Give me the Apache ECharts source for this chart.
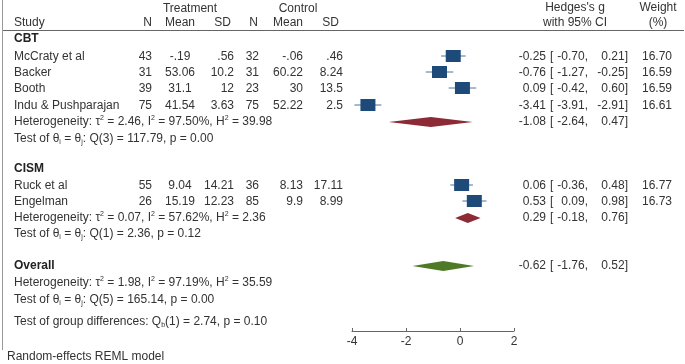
<!DOCTYPE html>
<html><head><meta charset="utf-8">
<script src="https://cdn.jsdelivr.net/npm/echarts@6/dist/echarts.min.js"></script>
<style>html,body{margin:0;padding:0;background:#fff}#c{width:685px;height:364px}</style>
</head><body><div id="c"></div>
<script>
// ---- data ----
const studies = ['McCraty et al', 'Backer', 'Booth', 'Indu & Pushparajan', 'Ruck et al', 'Engelman'];
const studyGroup = ['CBT', 'CBT', 'CBT', 'CBT', 'CISM', 'CISM'];
const treatN = ['43', '31', '39', '75', '55', '26'];
const treatMean = ['-.19', '53.06', '31.1', '41.54', '9.04', '15.19'];
const treatSD = ['.56', '10.2', '12', '3.63', '14.21', '12.23'];
const ctrlN = ['32', '31', '23', '75', '36', '85'];
const ctrlMean = ['-.06', '60.22', '30', '52.22', '8.13', '9.9'];
const ctrlSD = ['.46', '8.24', '13.5', '2.5', '17.11', '8.99'];
const hedgesG = [-0.25, -0.76, 0.09, -3.41, 0.06, 0.53];
const ciLow = [-0.70, -1.27, -0.42, -3.91, -0.36, 0.09];
const ciHigh = [0.21, -0.25, 0.60, -2.91, 0.48, 0.98];
const weights = ['16.70', '16.59', '16.59', '16.61', '16.77', '16.73'];
const groups = ['CBT', 'CISM', 'Overall'];
const pooledG = [-1.08, 0.29, -0.62];
const pooledLow = [-2.64, -0.18, -1.76];
const pooledHigh = [0.47, 0.76, 0.52];
const tau2 = ['2.46', '0.07', '1.98'];
const i2 = ['97.50%', '57.62%', '97.19%'];
const h2 = ['39.98', '2.36', '35.59'];
const qDf = ['3', '1', '5'];
const qVal = ['117.79', '2.36', '165.14'];
const qP = ['0.00', '0.12', '0.00'];
const groupDiff = { df: '1', q: '2.74', p: '0.10' };
const xTicks = [-4, -2, 0, 2];

// ---- layout ----
const studyRowY = [57, 73, 89, 106, 186, 202];
const groupHeadY = [39, 169, 266];
const pooledRowY = [122, 218, 266];
const hetY = [122, 218, 283];
const testY = [139, 234, 300];
const groupDiffY = 322;
const FONT = '"Liberation Sans", Arial, sans-serif';
const TXT = '#333';
const FS = 12;
const diamondColors = ['#8c2a35', '#8c2a35', '#4e7a27'];

const g = [];
function txt(x, y, s, align, extra) {
  g.push({ type: 'text', x: x, y: y, silent: true,
    style: Object.assign({ text: s, fill: TXT, font: FS + 'px ' + FONT, textAlign: align || 'left', textVerticalAlign: 'middle' }, extra || {}) });
}
function fmt(v) { return (v < 0 ? '-' : '') + Math.abs(v).toFixed(2); }
function ciText(y, est, lo, hi) {
  txt(546, y, fmt(est), 'right');
  txt(550, y, '[', 'left');
  txt(588, y, fmt(lo) + ',', 'right');
  txt(628, y, fmt(hi) + ']', 'right');
}
// header
txt(190, 9, 'Treatment', 'center');
txt(298, 9, 'Control', 'center');
txt(14, 23, 'Study');
txt(152, 23, 'N', 'right');
txt(195, 23, 'Mean', 'right');
txt(231, 23, 'SD', 'right');
txt(258, 23, 'N', 'right');
txt(303, 23, 'Mean', 'right');
txt(339, 23, 'SD', 'right');
txt(575, 8, "Hedges's g", 'center');
txt(575, 23, 'with 95% CI', 'center');
txt(658, 8, 'Weight', 'center');
txt(658, 23, '(%)', 'center');
g.push({ type: 'line', silent: true, shape: { x1: 2, y1: 30.5, x2: 684, y2: 30.5 }, style: { stroke: '#666', lineWidth: 1 } });
g.push({ type: 'line', silent: true, shape: { x1: 2.5, y1: 0, x2: 2.5, y2: 350 }, style: { stroke: '#999', lineWidth: 1 } });

// group heads
groups.forEach((gr, k) => {
  g.push({ type: 'text', x: 14, y: groupHeadY[k], silent: true,
    style: { text: gr, fill: '#222', font: 'bold ' + FS + 'px ' + FONT, textVerticalAlign: 'middle' } });
});
// studies
studies.forEach((s, i) => {
  const y = studyRowY[i];
  txt(14, y, s);
  txt(152, y, treatN[i], 'right');
  txt(180, y, treatMean[i], 'center');
  txt(234, y, treatSD[i], 'right');
  txt(259, y, ctrlN[i], 'right');
  txt(303, y, ctrlMean[i], 'right');
  txt(343, y, ctrlSD[i], 'right');
  ciText(y, hedgesG[i], ciLow[i], ciHigh[i]);
  txt(672, y, weights[i], 'right');
});
// rich text styles
const rich = {
  n: { fontSize: FS, fontFamily: FONT, color: TXT, lineHeight: 14, verticalAlign: 'middle' },
  sup: { fontSize: 7, fontFamily: FONT, color: TXT, lineHeight: 14, verticalAlign: 'top' },
  sub: { fontSize: 7, fontFamily: FONT, color: TXT, lineHeight: 14, verticalAlign: 'bottom' }
};
function richTxt(x, y, s) {
  g.push({ type: 'text', x: x, y: y, silent: true,
    style: { text: s, rich: rich, font: FS + 'px ' + FONT, fill: TXT, textVerticalAlign: 'middle' } });
}
groups.forEach((gr, k) => {
  richTxt(14, hetY[k], '{n|Heterogeneity: τ}{sup|2}{n| = ' + tau2[k] + ', I}{sup|2}{n| = ' + i2[k] + ', H}{sup|2}{n| = ' + h2[k] + '}');
  richTxt(14, testY[k], '{n|Test of θ}{sub|i}{n| = θ}{sub|j}{n|: Q(' + qDf[k] + ') = ' + qVal[k] + ', p = ' + qP[k] + '}');
  ciText(pooledRowY[k], pooledG[k], pooledLow[k], pooledHigh[k]);
});
richTxt(14, groupDiffY, '{n|Test of group differences: Q}{sub|b}{n|(' + groupDiff.df + ') = ' + groupDiff.q + ', p = ' + groupDiff.p + '}');
txt(7, 357, 'Random-effects REML model');

// marks
const studyData = hedgesG.map((v, i) => [v, studyRowY[i] - 1, ciLow[i], ciHigh[i]]);
const diamondData = pooledG.map((v, k) => [v, pooledRowY[k], pooledLow[k], pooledHigh[k], k]);

const chart = echarts.init(document.getElementById('c'), null, { renderer: 'canvas' });
chart.setOption({
  animation: false,
  grid: { left: 352, width: 162, top: 0, height: 331 },
  xAxis: {
    type: 'value', min: -4, max: 2, interval: 2, position: 'bottom',
    axisLine: { show: true, onZero: false, lineStyle: { color: '#666', width: 1 } },
    axisTick: { show: true, inside: true, length: 3, lineStyle: { color: '#666' } },
    axisLabel: { color: TXT, fontSize: FS, fontFamily: FONT, margin: 5,
      customValues: xTicks },
    splitLine: { show: false }
  },
  yAxis: { type: 'value', min: 0, max: 331, inverse: true, show: false },
  graphic: g,
  series: [
    {
      type: 'custom', silent: true,
      renderItem: function (params, api) {
        const c = api.coord([api.value(0), api.value(1)]);
        const l = api.coord([api.value(2), api.value(1)]);
        const h = api.coord([api.value(3), api.value(1)]);
        return { type: 'group', children: [
          { type: 'line', shape: { x1: l[0], y1: c[1], x2: h[0], y2: c[1] }, style: { stroke: '#4f739c', lineWidth: 1 } },
          { type: 'rect', shape: { x: c[0] - 7.5, y: c[1] - 6, width: 15, height: 12 }, style: { fill: '#1d4a78' } }
        ] };
      },
      data: studyData
    },
    {
      type: 'custom', silent: true,
      renderItem: function (params, api) {
        const c = api.coord([api.value(0), api.value(1)]);
        const l = api.coord([api.value(2), api.value(1)]);
        const h = api.coord([api.value(3), api.value(1)]);
        return { type: 'polygon', shape: { points: [[l[0], c[1]], [c[0], c[1] - 5], [h[0], c[1]], [c[0], c[1] + 5]] },
          style: { fill: diamondColors[api.value(4)] } };
      },
      data: diamondData
    }
  ]
});
</script></body></html>
